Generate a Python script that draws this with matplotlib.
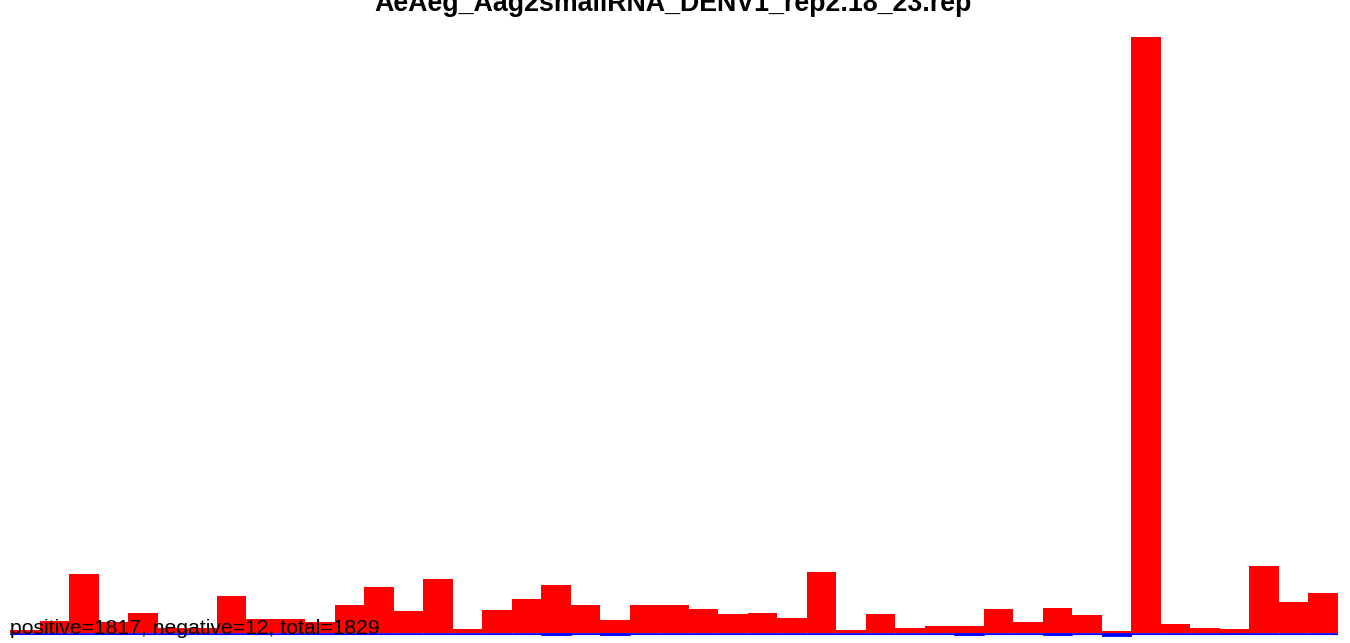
import numpy as np
import matplotlib
matplotlib.use("Agg")
import matplotlib.pyplot as plt

# reads per bin (positive strand / negative strand)
positive = [4, 14, 69, 13, 23, 6, 6, 43, 16, 16, 13,
            32, 54, 25, 63, 5, 27, 40, 56, 32, 15, 33,
            33, 28, 22, 23, 18, 71, 4, 22, 6, 8, 8, 28,
            13, 29, 21, 2, 693, 11, 6, 5, 78, 36, 47]
negative = [0] * 45
negative[18] = 2
negative[20] = 2
negative[32] = 2
negative[35] = 2
negative[37] = 3
negative[41] = 1

title = "AeAeg_Aag2smallRNA_DENV1_rep2.18_23.rep"

plt.rcParams['font.family'] = ['Liberation Sans', 'DejaVu Sans']

W, H = 1350, 643
fig = plt.figure(figsize=(W / 100, H / 100), dpi=100)
ax = fig.add_axes([10 / W, 0, 1328 / W, 1])

x = np.arange(len(positive))
pos = np.array(positive)
neg = np.array(negative)

# baseline sits 10 px above the bottom, tallest bar tops out 37 px below the top
scale = (H - 37 - 10) / pos.max()
ax.set_ylim(-10 / scale, (H - 10) / scale)
ax.set_xlim(0, len(positive))

ax.bar(x, -neg, width=1, align='edge', color='blue', edgecolor='blue',
       linewidth=0.6, zorder=1)
ax.axhline(-0.6 / scale, xmin=0, xmax=1, color='blue', linewidth=0.8, zorder=1)
ax.bar(x, pos, width=1, align='edge', color='red', linewidth=0, zorder=2)

total_pos = pos.sum()
total_neg = neg.sum()
ax.text(0, -1 / scale, f"positive={total_pos}, negative={total_neg}, total={total_pos + total_neg}",
        ha='left', va='baseline', fontsize=15.2, color='black', zorder=3)

fig.text(673 / W, 1 - 11 / H, title, ha='center', va='baseline',
         fontsize=19.3, fontweight='bold')

ax.axis('off')
fig.savefig("out.png", dpi=100)
